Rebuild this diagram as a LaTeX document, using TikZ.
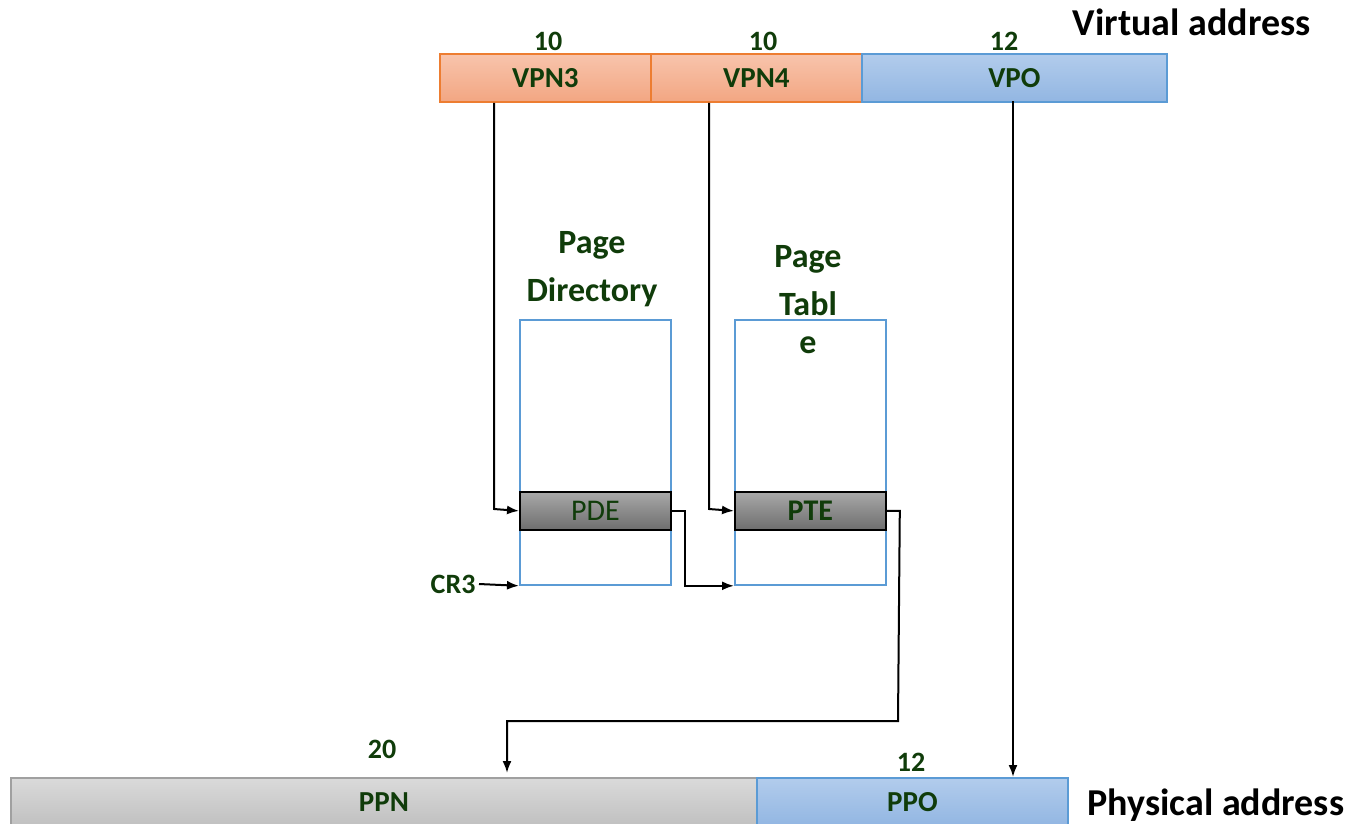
\documentclass[tikz,border=0pt]{standalone}
\usepackage{fontspec}
\setmainfont{Carlito}
\usetikzlibrary{arrows.meta}
\definecolor{lbl}{RGB}{16,60,10}
\definecolor{orfill1}{RGB}{248,196,172}
\definecolor{orfill2}{RGB}{242,166,130}
\definecolor{orline}{RGB}{237,125,49}
\definecolor{blfill1}{RGB}{178,204,236}
\definecolor{blfill2}{RGB}{146,182,226}
\definecolor{blline}{RGB}{91,155,213}
\definecolor{gyfill1}{RGB}{218,218,218}
\definecolor{gyfill2}{RGB}{192,192,192}
\definecolor{gyline}{RGB}{160,160,160}
\definecolor{pefill1}{RGB}{168,168,168}
\definecolor{pefill2}{RGB}{110,110,110}
\tikzset{
  field/.style={draw, line width=1.8pt, inner sep=0pt, anchor=north west,
    font=\fontsize{29}{34}\selectfont\bfseries, text=lbl},
  vpn/.style={field, draw=orline, top color=orfill1, bottom color=orfill2,
    minimum width=211pt, minimum height=48pt},
  offs/.style={field, draw=blline, top color=blfill1, bottom color=blfill2},
  ppnfield/.style={field, draw=gyline, top color=gyfill1, bottom color=gyfill2},
  table/.style={draw=blline, line width=1.8pt, fill=white, inner sep=0pt,
    anchor=north west, minimum width=151pt, minimum height=265pt},
  entry/.style={draw=black, line width=1.8pt, inner sep=0pt, anchor=north west,
    top color=pefill1, bottom color=pefill2, minimum width=151pt,
    minimum height=38pt, text=lbl, font=\fontsize{30}{34}\selectfont},
  bits/.style={text=lbl, font=\fontsize{28}{32}\selectfont\bfseries},
  title/.style={text=lbl, font=\fontsize{34}{48}\selectfont\bfseries, align=center},
  caption/.style={text=black, font=\fontsize{38}{44}\selectfont\bfseries},
  link/.style={draw=black, line width=2pt, -{Latex[length=12pt,width=9pt]}}
}
\begin{document}
\begin{tikzpicture}[x=1pt,y=-1pt]
\useasboundingbox (0,0) rectangle (1346,823);

% virtual address fields
\node[vpn] (vpn3) at (439,53) {VPN3};
\node[vpn] (vpn4) at (650,53) {VPN4};
\node[offs, minimum width=305pt, minimum height=48pt] (vpo) at (861,53) {VPO};
\node[bits] (b1) at (548,41) {10};
\node[bits] (b2) at (763,41) {10};
\node[bits] (b3) at (1004,41) {12};
\node[caption, anchor=east] (va) at (1314,22) {Virtual address};

% page directory and page table
\node[table] (pd) at (519,319) {};
\node[table] (pt) at (734,319) {};
\node[entry] (pde) at (519,491) {PDE};
\node[entry, font=\fontsize{30}{34}\selectfont\bfseries] (pte) at (734,491) {PTE};
\node[title] (pdt) at (592,269) {Page\\Directory};
\node[title] (ptt) at (808,300) {Page\\Tabl\\[-10pt]e};

% CR3
\node[bits, anchor=east] (cr3) at (479,584) {CR3};

% physical address fields
\node[ppnfield, minimum width=746pt, minimum height=48pt] (ppn) at (10,777) {PPN};
\node[offs, minimum width=311pt, minimum height=48pt] (ppo) at (756,777) {PPO};
\node[bits] (b4) at (382,749) {20};
\node[bits] (b5) at (911,762) {12};
\node[caption, anchor=west] (pa) at (1084,805) {Physical address};

% translation connectors
\coordinate (j1) at (494,509);
\coordinate (j2) at (709,509);
\draw[link] (vpn3.south -| j1) -- (j1) -- (pde.west);
\draw[link] (vpn4.south -| j2) -- (j2) -- (pde.west -| pt.west);
\draw[link] (pde.east) -- ++(13,0) |- (pt.south west);
\draw[link] (pte.east) -- ++(13,0) -- (898,721) -- (507,721) -- (507,773);
\draw[link] (1013,101) -- (ppo.north -| 1013,0);
\draw[link] (cr3.east) -- (pd.south west);
\end{tikzpicture}
\end{document}
